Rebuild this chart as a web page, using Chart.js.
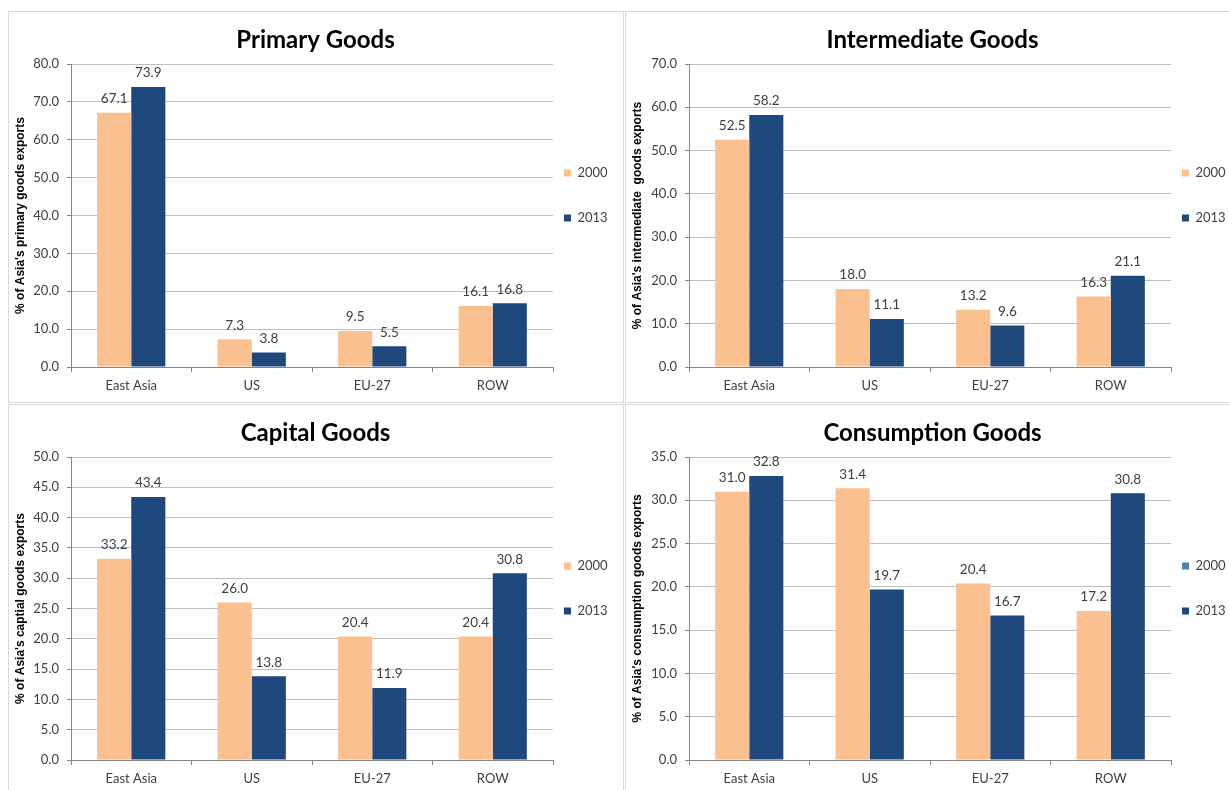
<!DOCTYPE html>
<html><head><meta charset="utf-8">
<script src="https://cdn.jsdelivr.net/npm/chart.js@4.4.1/dist/chart.umd.min.js"></script>
<style>
html,body{margin:0;padding:0;background:#fff;width:1229px;height:790px;overflow:hidden;position:relative}
.frame{position:absolute;border:1px solid #d9d9d9;box-sizing:border-box;width:616px;height:392px}
canvas{position:absolute;}
</style></head><body>
<div class="frame" style="left:8px;top:11px"></div>
<div class="frame" style="left:625px;top:11px"></div>
<div class="frame" style="left:8px;top:404px"></div>
<div class="frame" style="left:625px;top:404px"></div>
<canvas id="c0" width="615" height="391" style="left:8px;top:11px"></canvas>
<canvas id="c1" width="615" height="391" style="left:625px;top:11px"></canvas>
<canvas id="c2" width="615" height="391" style="left:8px;top:404px"></canvas>
<canvas id="c3" width="615" height="391" style="left:625px;top:404px"></canvas>
<script>
// ---- data ----
const categories = ['East Asia', 'US', 'EU-27', 'ROW'];
const seriesNames = ['2000', '2013'];
const primary2000 = [67.1, 7.3, 9.5, 16.1];
const primary2013 = [73.9, 3.8, 5.5, 16.8];
const intermediate2000 = [52.5, 18.0, 13.2, 16.3];
const intermediate2013 = [58.2, 11.1, 9.6, 21.1];
const capital2000 = [33.2, 26.0, 20.4, 20.4];
const capital2013 = [43.4, 13.8, 11.9, 30.8];
const consumption2000 = [31.0, 31.4, 20.4, 17.2];
const consumption2013 = [32.8, 19.7, 16.7, 30.8];
const chartTitles = ['Primary Goods', 'Intermediate Goods', 'Capital Goods', 'Consumption Goods'];
const yTitles = ["% of Asia's primary goods exports", "% of Asia's intermediate  goods exports",
                 "% of Asia's captial goods exports", "% of Asia's consumption goods exports"];
const yMax = [80, 70, 50, 35];
const yStep = [10, 10, 5, 5];

// ---- styles ----
const color2000 = '#FAC090';
const color2013 = '#1F497D';
const legendColor2000 = [null, null, null, '#4F81BD'];
const FONT = 'Lato, "Open Sans", sans-serif';
const TEXT = '#404040';
const AXIS = '#868686';
const GRID = '#bfbfbf';
const yAxisWidth = [63, 64, 63, 64];
const legendWidth = [70, 69, 70, 69];

const valueLabels = {
  id: 'valueLabels',
  afterDatasetsDraw(chart) {
    const ctx = chart.ctx;
    ctx.save();
    ctx.font = '13.5px ' + FONT;
    ctx.fillStyle = TEXT;
    ctx.textAlign = 'center';
    ctx.textBaseline = 'middle';
    chart.data.datasets.forEach((ds, i) => {
      chart.getDatasetMeta(i).data.forEach((bar, j) => {
        ctx.fillText(ds.data[j].toFixed(1), bar.x, bar.y - 14);
      });
    });
    ctx.restore();
  }
};

const legendPlace = {
  id: 'legendPlace',
  afterLayout(chart) {
    const lg = chart.legend;
    if (!lg) return;
    const p = lg.options.labels.padding;
    lg.left = chart.chartArea.right + 11 - p;
    lg.right = lg.left + 120;
    lg.top = 155.5 - p;
    lg.bottom = lg.top + 200;
  }
};

function makeChart(idx, d2000, d2013) {
  new Chart(document.getElementById('c' + idx), {
    type: 'bar',
    data: {
      labels: categories,
      datasets: [
        { label: seriesNames[0], data: d2000, backgroundColor: color2000, borderWidth: 0,
          categoryPercentage: 0.566, barPercentage: 1 },
        { label: seriesNames[1], data: d2013, backgroundColor: color2013, borderWidth: 0,
          categoryPercentage: 0.566, barPercentage: 1 }
      ]
    },
    options: {
      responsive: false,
      animation: false,
      layout: { padding: 0 },
      plugins: {
        tooltip: { enabled: false },
        title: {
          display: true, text: chartTitles[idx], color: '#000',
          font: { family: FONT, size: 24, weight: 'bold' },
          padding: { top: 15, bottom: 9.2 }
        },
        legend: {
          position: 'right', align: 'start', maxWidth: legendWidth[idx],
          labels: {
            boxWidth: 7, boxHeight: 7, padding: 32, color: TEXT,
            font: { family: FONT, size: 13 },
            generateLabels(chart) {
              const items = Chart.defaults.plugins.legend.labels.generateLabels(chart);
              if (legendColor2000[idx]) items[0].fillStyle = legendColor2000[idx];
              return items;
            }
          }
        }
      },
      scales: {
        x: {
          grid: { display: true, drawOnChartArea: false, drawTicks: true, tickLength: 5, color: AXIS, offset: true },
          border: { color: AXIS },
          ticks: { color: TEXT, font: { family: FONT, size: 13 }, padding: 6 },
          afterFit(s) { s.height = 35; }
        },
        y: {
          min: 0, max: yMax[idx],
          ticks: { stepSize: yStep[idx], color: TEXT, font: { family: FONT, size: 13 }, padding: 8,
                   callback: v => Number(v).toFixed(1) },
          grid: { color: GRID, tickLength: 4, tickColor: AXIS },
          border: { color: AXIS },
          title: { display: true, text: yTitles[idx], color: '#000',
                   font: { family: '"Liberation Sans", Arial, sans-serif', size: 12, weight: 'bold' },
                   padding: { top: 5, bottom: 0 } },
          afterFit(s) { s.width = yAxisWidth[idx]; }
        }
      }
    },
    plugins: [valueLabels, legendPlace]
  });
}

makeChart(0, primary2000, primary2013);
makeChart(1, intermediate2000, intermediate2013);
makeChart(2, capital2000, capital2013);
makeChart(3, consumption2000, consumption2013);
</script>
</body></html>
